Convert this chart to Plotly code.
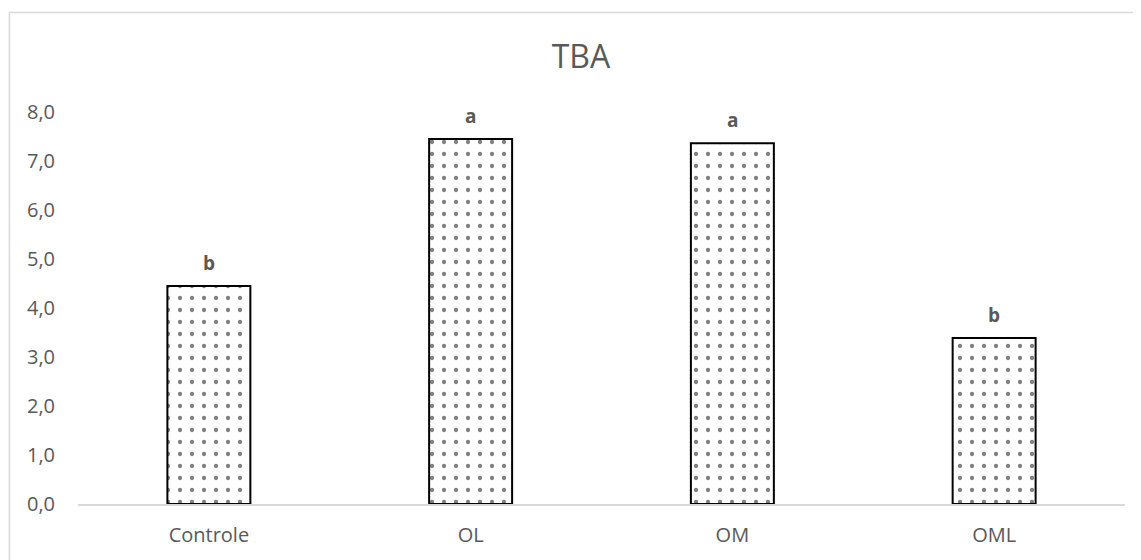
import plotly.graph_objects as go

# data
categories = ["Controle", "OL", "OM", "OML"]
tba_values = [4.45, 7.45, 7.36, 3.39]
letters = ["b", "a", "a", "b"]
y_ticks = [0, 1, 2, 3, 4, 5, 6, 7, 8]

TEXT_GREY = "#595959"
LINE_GREY = "#d9d9d9"
FONT = "Open Sans"

fig = go.Figure()
fig.add_trace(go.Bar(
    x=categories,
    y=tba_values,
    marker=dict(
        color="white",
        line=dict(color="black", width=2),
        pattern=dict(shape=".", fgcolor="black", bgcolor="white",
                     size=12, solidity=0.1),
    ),
    showlegend=False,
))

for cat, val, letter in zip(categories, tba_values, letters):
    fig.add_annotation(
        x=cat, y=val, text=f"<b>{letter}</b>", showarrow=False,
        yanchor="bottom", yshift=8,
        font=dict(family=FONT, size=19, color=TEXT_GREY),
    )

# light outer border (only left and top edges fall inside the picture)
fig.add_shape(
    type="rect", xref="paper", yref="paper",
    x0=-0.0655, x1=1.2, y0=-0.5, y1=1.254,
    line=dict(color=LINE_GREY, width=1.5), fillcolor="rgba(0,0,0,0)",
    layer="below",
)

fig.update_layout(
    width=1133, height=552,
    margin=dict(l=69.5, r=15.5, t=104, b=54),
    paper_bgcolor="white", plot_bgcolor="white",
    separators=",.",
    bargap=0.683,
    title=dict(text="TBA", x=0.5057, xanchor="center", y=0.911, yanchor="middle",
               font=dict(family=FONT, size=32, color=TEXT_GREY)),
    font=dict(family=FONT, size=20, color=TEXT_GREY),
    xaxis=dict(showline=True, linecolor=LINE_GREY, linewidth=2,
               showgrid=False, ticks="", ticklabelstandoff=12,
               tickfont=dict(family=FONT, size=20, color=TEXT_GREY)),
    yaxis=dict(range=[0, 8], tickvals=y_ticks, tickformat=".1f",
               showgrid=False, zeroline=False, showline=False, ticks="",
               ticklabelstandoff=22,
               tickfont=dict(family=FONT, size=20, color=TEXT_GREY)),
)

fig.write_html("out.html")
